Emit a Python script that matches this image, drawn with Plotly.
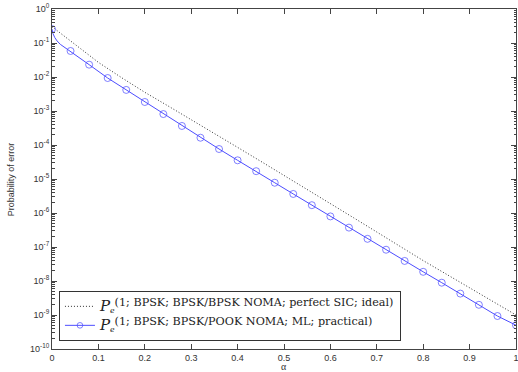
import plotly.graph_objects as go

# ---- data (log10 of probability) ----
alpha_ideal = [0.0, 0.05, 0.10, 0.15, 0.20, 0.25, 0.30, 0.35, 0.40, 0.45, 0.50,
               0.55, 0.60, 0.65, 0.70, 0.75, 0.80, 0.85, 0.90, 0.95, 1.0]
log_pe_ideal = [-0.52, -1.05, -1.57, -2.02, -2.45, -2.85, -3.25, -3.65, -4.07, -4.48, -4.89,
                -5.30, -5.72, -6.14, -6.56, -6.99, -7.40, -7.80, -8.20, -8.60, -9.00]

alpha_marks = [0.00, 0.04, 0.08, 0.12, 0.16, 0.20, 0.24, 0.28, 0.32, 0.36, 0.40, 0.44, 0.48,
               0.52, 0.56, 0.60, 0.64, 0.68, 0.72, 0.76, 0.80, 0.84, 0.88, 0.92, 0.96, 1.00]
log_pe_marks = [-0.59, -1.235, -1.637, -2.03, -2.38, -2.735, -3.09, -3.44, -3.786, -4.118,
                -4.45, -4.77, -5.11, -5.44, -5.77, -6.10, -6.43, -6.76, -7.08, -7.41,
                -7.73, -8.05, -8.37, -8.70, -9.03, -9.30]
# extra curve points between the first two markers (steep start of the solid curve)
alpha_extra = [0.002, 0.006, 0.011, 0.018, 0.025, 0.032]
log_pe_extra = [-0.72, -0.84, -0.94, -1.04, -1.11, -1.18]

x_ticks = [0, 0.1, 0.2, 0.3, 0.4, 0.5, 0.6, 0.7, 0.8, 0.9, 1]
x_tick_text = ["0", "0.1", "0.2", "0.3", "0.4", "0.5", "0.6", "0.7", "0.8", "0.9", "1"]
y_exps = [0, -1, -2, -3, -4, -5, -6, -7, -8, -9, -10]

label_ideal = "(1; BPSK; BPSK/BPSK NOMA; perfect SIC; ideal)"
label_prac = "(1; BPSK; BPSK/POOK NOMA; ML; practical)"


def legend_name(sup_text):
    return ('<span style="font-size:15px"><i>P</i></span><sub><i>e</i></sub>'
            '<sup><span style="font-size:11.2px">' + sup_text + '</span></sup>')


# ---- build ----
pe_ideal = [10 ** v for v in log_pe_ideal]
pts = sorted([(a, 10 ** v, 7) for a, v in zip(alpha_marks, log_pe_marks)] +
             [(a, 10 ** v, 0) for a, v in zip(alpha_extra, log_pe_extra)])
px = [p[0] for p in pts]
py = [p[1] for p in pts]
ps = [p[2] for p in pts]

blue = "#4d4dff"
fig = go.Figure()
fig.add_trace(go.Scatter(x=alpha_ideal, y=pe_ideal, mode="lines", name=legend_name(label_ideal),
                         line=dict(color="#333333", width=1, dash="1px,2px")))
fig.add_trace(go.Scatter(x=px, y=py, mode="lines+markers", name=legend_name(label_prac),
                         line=dict(color=blue, width=1),
                         marker=dict(symbol="circle-open", size=ps, color=blue,
                                     line=dict(width=1, color=blue))))

axis_common = dict(showline=True, linecolor="#444", linewidth=1, mirror="allticks",
                   ticks="inside", tickcolor="#444", showgrid=False, zeroline=False,
                   automargin=False, ticklabeloverflow="allow",
                   tickfont=dict(family="Liberation Sans, Arial", size=9, color="#333"))

fig.update_xaxes(range=[0, 1], tickvals=x_ticks, ticktext=x_tick_text, ticklen=5,
                 ticklabelstandoff=0, **axis_common)
fig.update_yaxes(type="log", range=[-10, 0],
                 tickvals=[10 ** e for e in y_exps],
                 ticktext=["10<sup>%d</sup>" % e for e in y_exps], ticklen=5,
                 minor=dict(ticks="inside", ticklen=2.5, tickcolor="#444", dtick="D1"),
                 **axis_common)

fig.add_annotation(text="α", xref="paper", yref="paper", x=0.5, y=-0.052,
                   xanchor="center", yanchor="middle", showarrow=False,
                   font=dict(family="Liberation Serif", size=10, color="#333"))
fig.add_annotation(text="Probability of error", xref="paper", yref="paper",
                   x=-0.088, y=0.5, xanchor="center", yanchor="middle", textangle=-90,
                   showarrow=False,
                   font=dict(family="Liberation Sans, Arial", size=9, color="#333"))

fig.update_layout(
    width=518, height=372,
    margin=dict(l=52, r=1.5, t=9, b=23),
    paper_bgcolor="white", plot_bgcolor="white",
    showlegend=True,
    legend=dict(x=0.015, y=0.024, xanchor="left", yanchor="bottom",
                bgcolor="white", bordercolor="#333", borderwidth=1,
                font=dict(family="DejaVu Serif", size=11, color="#222"),
                itemwidth=30, tracegroupgap=0, itemsizing="trace"),
)

fig.write_html("out.html", config={"displayModeBar": False},
               post_script="document.body.style.margin='0';"
                           "document.body.style.overflow='hidden';")
